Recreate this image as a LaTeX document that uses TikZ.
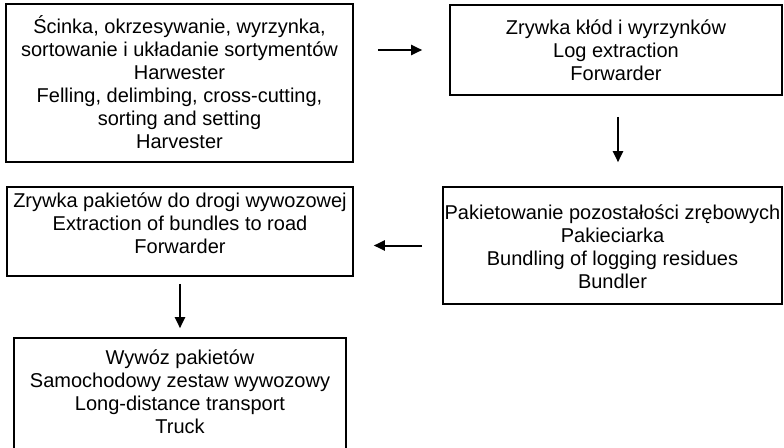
\documentclass[tikz,border=0pt]{standalone}
\usepackage{fontspec}
\setmainfont{Liberation Sans}
\usetikzlibrary{arrows.meta}

\tikzset{
  stage/.style={draw, line width=1.6pt, inner sep=0pt,
                font=\fontsize{20}{23}\selectfont},
  flow/.style={-{Triangle[length=11pt, width=10pt]}, line width=2pt},
}
% width, height, top gap, lines
\newcommand{\stagetext}[4]{\parbox[c][#2pt][t]{#1pt}{\centering\vspace*{#3pt}\rule{0pt}{19pt}#4}}

\begin{document}
\begin{tikzpicture}[x=1pt, y=-1pt]
        \useasboundingbox (0,0) rectangle (784,447);
        \clip (0,0) rectangle (784,447);
        \node[stage] (fell) at (179.5,83) {\stagetext{347}{158}{10}{%
          Ścinka, okrzesywanie, wyrzynka,\\
          sortowanie i układanie sortymentów\\
          Harwester\\
          Felling, delimbing, cross-cutting,\\
          sorting and setting\\
          Harvester}};
        \node[stage] (logs) at (616,50) {\stagetext{332}{90}{10}{%
          Zrywka kłód i wyrzynków\\
          Log extraction\\
          Forwarder}};
        \node[stage] (bundle) at (612.5,245.5) {\stagetext{339}{117}{13.5}{%
          Pakietowanie pozostałości zrębowych\\
          Pakieciarka\\
          Bundling of logging residues\\
          Bundler}};
        \node[stage] (skid) at (180,231.5) {\stagetext{346}{89}{1}{%
          Zrywka pakietów do drogi wywozowej\\
          Extraction of bundles to road\\
          Forwarder}};
        \node[stage] (haul) at (180,399) {\stagetext{332}{122}{7.3}{%
          Wywóz pakietów\\
          Samochodowy zestaw wywozowy\\
          Long-distance transport\\
          Truck}};
        % connectors
        \draw[flow, shorten <=24pt, shorten >=27pt] (fell.east |- logs.west) -- (logs.west);
        \draw[flow, shorten <=21pt, shorten >=24pt] ([xshift=2pt]logs.south) -- ([xshift=2pt]logs.south |- bundle.north);
        \draw[flow, shorten <=20pt, shorten >=20pt] (bundle.west) -- (skid.east |- bundle.west);
        \draw[flow, shorten <=7pt, shorten >=9pt] (skid.south) -- (haul.north);
      \end{tikzpicture}
\end{document}
